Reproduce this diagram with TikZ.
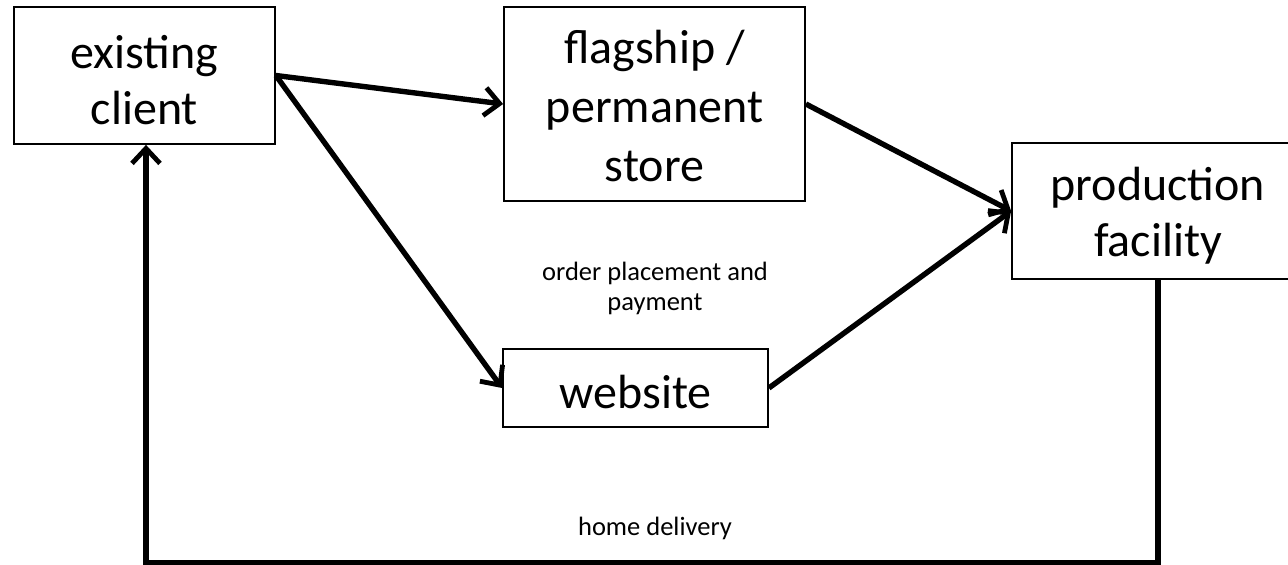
\documentclass[tikz,border=0pt]{standalone}
\usepackage{fontspec}
\setmainfont{Carlito}
\usetikzlibrary{arrows.meta}

\begin{document}
\begin{tikzpicture}[x=1pt,y=-1pt,
  box/.style={draw=black,line width=1.8pt,inner sep=0pt},
  boxtext/.style={align=center,inner sep=0pt,font=\fontsize{48}{56}\selectfont},
  flow/.style={line width=5.4pt,-{Straight Barb[length=15pt,width=28pt,line width=4.8pt]}},
  note/.style={align=center,inner sep=0pt,font=\fontsize{26.5}{30}\selectfont}]
  \useasboundingbox (0,0) rectangle (1288,565);

  % main boxes, with their text set slightly below centre
  \node[box,minimum width=261pt,minimum height=137pt,
    label={[boxtext,yshift=-5pt]center:{existing\\client}}] (client) at (144.5,75.5) {};
  \node[box,minimum width=301pt,minimum height=194pt,
    label={[boxtext,font=\fontsize{48}{59}\selectfont,yshift=-2pt]center:{flagship /\\permanent\\store}}] (store) at (654.5,104) {};
  \node[box,minimum width=265pt,minimum height=78pt,
    label={[boxtext,yshift=-4pt]center:website}] (web) at (635.5,388) {};
  \node[box,minimum width=292pt,minimum height=136pt,
    label={[boxtext,yshift=-5pt]center:{production\\facility}}] (prod) at (1158,211) {};

  % labels
  \node[note] (order) at (655,288) {order placement and\\payment};
  \node[note,anchor=base] (delivery) at (655,535) {home delivery};

  % ordering flows
  \draw[flow] (client.east) -- (store.west);
  \draw[flow] (client.east) -- (web.west);
  \draw[flow] (store.east) -- (prod.west);
  \draw[flow] (web.east) -- (prod.west);

  % delivery loop back to the client
  \coordinate (loopR) at (1158,562.3);
  \coordinate (loopL) at (146,562.3);
  \draw[flow] (prod.south -| loopR) -- (loopR) -- (loopL) -- (client.south -| loopL);
\end{tikzpicture}
\end{document}
